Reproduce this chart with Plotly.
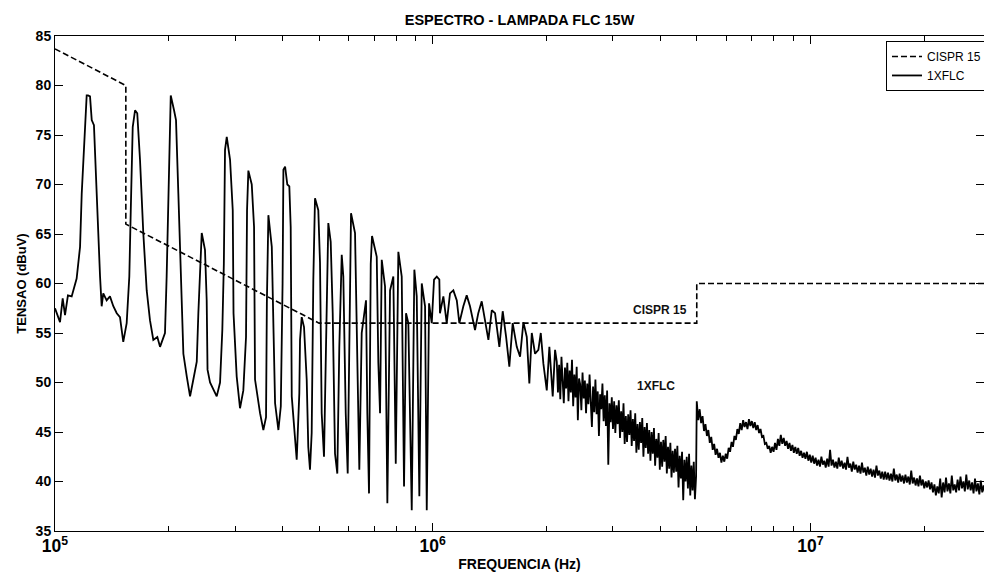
import numpy as np
import plotly.graph_objects as go

# ---------------- CISPR 15 limit (dBuV) ----------------
cispr_freq_hz = [1.0e5, 1.54e5, 1.54e5, 5.0e5, 5.0e6, 5.0e6, 3.0e7]
cispr_dbuv = [83.7, 80.0, 66.0, 56.0, 56.0, 60.0, 60.0]

# ---------------- Measured spectrum, 1XFLC ----------------
# Low band (harmonic region), frequencies in kHz
low_freq_khz = [
    100.0, 103.1, 104.8, 106.3, 108.2, 110.7, 114.1, 116.5, 117.7, 119.6,
    121.3, 122.3, 123.8, 125.1, 126.8, 128.4, 130.2, 131.6, 132.9, 134.2,
    137.0, 139.8, 142.7, 145.7, 148.6, 151.6, 154.8, 157.3, 158.7, 160.6,
    162.9, 165.1, 167.9, 171.3, 174.9, 178.4, 182.1, 186.6, 189.7, 195.5,
    197.5, 199.5, 202.5, 206.6, 209.1, 212.1, 215.2, 218.7, 223.3, 227.8,
    232.4, 237.3, 239.6, 244.6, 249.5, 252.1, 253.4, 257.3, 268.0, 273.5,
    277.3, 279.9, 281.9, 284.9, 290.7, 295.5, 296.9, 302.7, 308.9, 315.2,
    320.4, 322.4, 325.0, 331.8, 336.5, 338.5, 349.0, 356.1, 362.0, 363.8,
    367.2, 374.9, 379.0, 382.5, 390.3, 396.1, 400.4, 402.4, 406.6, 412.1,
    417.2, 420.7, 423.4, 431.9, 436.4, 443.4, 445.3, 449.9, 456.3, 463.8,
    468.3, 473.2, 478.1, 482.9, 487.9, 497.8, 503.0, 508.2, 515.4, 521.7,
    529.1, 536.9, 543.5, 551.2, 559.0, 565.8, 574.2, 579.8, 588.4, 595.5,
    603.9, 607.7, 622.7, 631.5, 639.2, 648.6, 665.8, 671.2, 678.1, 685.3,
    690.7, 710.8, 717.8, 725.3, 732.8, 747.7, 758.3, 770.9, 786.5, 798.2,
    810.9, 827.8, 839.5, 849.8, 861.8, 879.9, 894.0, 907.1, 921.6, 935.3,
    954.3, 964.2, 977.8, 994.0, 1008, 1025, 1041, 1045, 1067, 1089,
    1111, 1134, 1158, 1176, 1205, 1230, 1255, 1294, 1320, 1348,
    1376, 1404, 1433, 1462, 1501, 1532, 1564, 1595, 1628, 1669,
    1703, 1738, 1774, 1802, 1829, 1866, 1904, 1932, 1963, 2004,
    2036, 2078, 2108,
]
low_dbuv = [
    57.5, 56.1, 58.5, 56.8, 58.8, 58.7, 60.5, 63.7, 69.1, 75.2,
    79.0, 79.0, 78.9, 76.5, 76.0, 70.8, 64.1, 60.7, 57.7, 59.0,
    58.3, 58.7, 57.7, 57.0, 56.6, 54.1, 56.0, 60.7, 67.4, 75.8,
    77.5, 77.2, 72.5, 65.1, 59.3, 56.3, 54.3, 54.6, 53.6, 55.0,
    60.7, 69.1, 79.0, 77.5, 76.5, 69.1, 60.7, 52.9, 50.6, 48.6,
    50.3, 52.1, 57.0, 65.1, 63.4, 58.3, 51.3, 50.0, 48.6, 50.0,
    55.3, 62.0, 73.5, 74.8, 72.5, 67.4, 57.0, 50.6, 47.4, 49.2,
    54.6, 67.4, 71.4, 70.0, 65.7, 50.3, 46.9, 45.2, 46.5, 58.0,
    66.9, 63.7, 55.0, 47.9, 45.2, 47.6, 60.0, 71.5, 71.8, 70.0,
    69.8, 65.7, 48.6, 44.5, 42.2, 48.9, 54.3, 56.6, 55.6, 50.3,
    43.5, 41.2, 44.9, 60.4, 68.6, 67.4, 62.1, 46.9, 42.5, 53.6,
    66.1, 64.2, 57.0, 42.8, 40.8, 53.6, 62.9, 60.7, 46.9, 40.8,
    60.4, 67.1, 65.1, 53.6, 41.2, 55.0, 58.3, 46.9, 38.8, 62.0,
    64.8, 62.7, 52.0, 46.9, 62.4, 59.7, 37.8, 59.3, 60.7, 41.8,
    63.2, 60.7, 39.5, 57.0, 56.0, 37.1, 61.4, 58.7, 38.5, 60.0,
    57.7, 37.1, 58.0, 56.0, 60.4, 60.7, 60.4, 57.0, 58.7, 56.0,
    59.0, 59.3, 58.3, 56.0, 57.7, 58.8, 57.7, 55.3, 57.0, 58.2,
    56.0, 54.3, 57.3, 57.0, 53.6, 57.2, 54.6, 51.6, 56.0, 53.6,
    52.6, 56.1, 54.6, 49.9, 55.0, 52.9, 53.3, 55.0, 51.9, 49.2,
    53.6, 48.6, 53.3,
]

# Mid band sweep, 2.13 MHz .. 4.98 MHz
mid_sweep_hz = np.geomspace(2.13e6, 4.98e6, 120)
mid_dbuv = [
    52.1, 49.0, 51.8, 48.3, 52.6, 50.2, 47.9, 51.5, 49.4, 52.0,
    48.1, 51.2, 49.0, 52.3, 47.6, 50.8, 48.5, 51.6, 46.2, 50.4,
    49.8, 47.2, 51.0, 48.4, 50.2, 46.9, 49.9, 47.8, 50.8, 48.1,
    45.5, 49.6, 47.0, 50.3, 46.8, 49.1, 44.6, 48.8, 47.3, 49.9,
    46.1, 48.7, 45.6, 49.2, 41.7, 47.9, 46.0, 48.5, 45.3, 48.1,
    44.9, 47.7, 45.8, 48.2, 44.4, 47.1, 45.0, 47.9, 43.8, 46.6,
    44.0, 46.8, 44.7, 47.2, 43.6, 46.3, 44.1, 46.9, 42.9, 45.8,
    43.2, 46.0, 43.9, 46.4, 42.5, 45.5, 43.4, 45.9, 42.8, 45.2,
    42.1, 45.0, 42.8, 45.4, 41.6, 44.3, 42.4, 44.9, 41.2, 44.0,
    41.5, 44.2, 42.0, 44.6, 40.8, 43.5, 41.3, 43.9, 40.4, 43.1,
    40.9, 43.3, 41.0, 43.6, 39.4, 42.6, 40.3, 43.0, 38.1, 42.2,
    40.0, 42.5, 39.3, 42.8, 38.6, 41.6, 39.1, 42.0, 38.2, 40.5,
]

# High band sweep, 5 MHz .. 29 MHz
high_sweep_hz = np.geomspace(5.0e6, 2.9e7, 200)
high_dbuv = [
    48.1, 46.2, 47.3, 45.9, 46.6, 45.1, 45.8, 44.6, 45.2, 43.9,
    44.5, 43.2, 43.8, 42.7, 43.3, 42.4, 42.9, 41.9, 42.6, 42.0,
    42.8, 42.3, 43.4, 43.0, 44.0, 43.5, 44.6, 44.2, 45.3, 44.8,
    45.9, 45.2, 46.2, 45.5, 46.0, 45.3, 46.3, 45.6, 46.1, 45.4,
    46.0, 45.2, 45.7, 44.9, 45.3, 44.5, 44.6, 43.8, 43.9, 43.3,
    43.6, 42.9, 43.5, 43.0, 43.9, 43.2, 44.3, 43.6, 44.7, 43.8,
    44.4, 43.6, 44.1, 43.3, 43.9, 43.1, 43.7, 42.9, 43.5, 42.8,
    43.4, 42.6, 43.1, 42.4, 42.9, 42.3, 43.0, 42.1, 42.7, 41.9,
    42.6, 41.8, 42.4, 41.6, 42.2, 41.5, 42.5, 41.7, 42.1, 41.4,
    42.3, 41.5, 43.2, 41.6, 42.2, 41.4, 42.0, 41.3, 42.4, 41.5,
    42.1, 41.3, 41.9, 41.2, 42.5, 41.4, 41.8, 41.0, 42.0, 41.2,
    41.7, 40.9, 41.6, 40.8, 41.9, 40.9, 41.4, 40.6, 41.5, 40.7,
    41.3, 40.5, 41.2, 40.4, 41.6, 40.6, 41.1, 40.3, 41.0, 40.2,
    41.0, 40.2, 40.9, 40.1, 40.8, 40.0, 41.3, 40.1, 40.7, 39.9,
    40.8, 40.0, 40.6, 39.8, 40.7, 39.9, 40.5, 39.7, 41.1, 39.8,
    40.4, 39.6, 40.3, 39.5, 40.6, 39.6, 40.2, 39.3, 40.0, 39.4,
    40.1, 39.2, 39.9, 38.9, 39.7, 38.6, 39.5, 38.8, 40.3, 38.4,
    39.9, 38.9, 40.4, 39.0, 39.8, 38.8, 40.6, 39.1, 39.7, 38.9,
    40.2, 39.1, 40.5, 39.3, 40.0, 39.0, 40.7, 39.2, 40.1, 39.1,
    39.9, 38.8, 40.3, 39.0, 39.8, 38.7, 40.1, 38.9, 39.6, 38.8,
]

flc_freq_hz = np.concatenate([np.array(low_freq_khz) * 1e3, mid_sweep_hz, high_sweep_hz])
flc_dbuv = np.concatenate([low_dbuv, mid_dbuv, high_dbuv])

# In-plot labels: (text, frequency Hz, level dBuV)
curve_labels = [("CISPR 15", 4.0e6, 57.3), ("1XFLC", 3.9e6, 49.6)]

FONT = "Liberation Sans, Arial, sans-serif"

fig = go.Figure()
fig.add_trace(go.Scatter(
    x=cispr_freq_hz, y=cispr_dbuv, mode="lines", name="CISPR 15",
    line=dict(color="black", width=1.6, dash="6px,3px"),
))
fig.add_trace(go.Scatter(
    x=flc_freq_hz, y=flc_dbuv, mode="lines", name="1XFLC",
    line=dict(color="black", width=1.8),
))

for text, f, v in curve_labels:
    fig.add_annotation(
        x=np.log10(f), y=v, xref="x", yref="y", text=text, showarrow=False,
        font=dict(family=FONT, size=12, color="#111", weight="bold"),
    )

axis_common = dict(
    showgrid=False, zeroline=False, showline=True, linecolor="black", linewidth=1,
    ticks="inside", tickcolor="black", ticklen=8,
    tickfont=dict(family=FONT, size=14, color="black", weight="bold"),
)

fig.update_xaxes(
    type="log", range=[5, np.log10(2.88e7)], dtick=1, exponentformat="power",
    mirror="ticks",
    minor=dict(ticks="inside", ticklen=5, tickcolor="black", dtick="D1", showgrid=False),
    title=dict(text="FREQUENCIA (Hz)", standoff=5,
               font=dict(family=FONT, size=14, color="black", weight="bold")),
    **axis_common,
)
fig.update_yaxes(
    range=[35, 85], dtick=5, tick0=35, mirror="ticks",
    title=dict(text="TENSAO (dBuV)", standoff=6,
               font=dict(family=FONT, size=13, color="black", weight="bold")),
    **axis_common,
)

fig.update_layout(
    width=984, height=572,
    margin=dict(l=55, r=0, t=36, b=41, autoexpand=False),
    paper_bgcolor="white", plot_bgcolor="white",
    title=dict(text="<b>ESPECTRO - LAMPADA FLC 15W</b>", x=0.528, xanchor="center",
               y=0.965, yanchor="middle",
               font=dict(family=FONT, size=14.5, color="black")),
    legend=dict(x=0.8945, xanchor="left", y=0.99, yanchor="top",
                bgcolor="white", bordercolor="black", borderwidth=1,
                font=dict(family=FONT, size=12, color="black"),
                tracegroupgap=0, itemwidth=30),
    showlegend=True,
)

fig.write_html("out.html")
